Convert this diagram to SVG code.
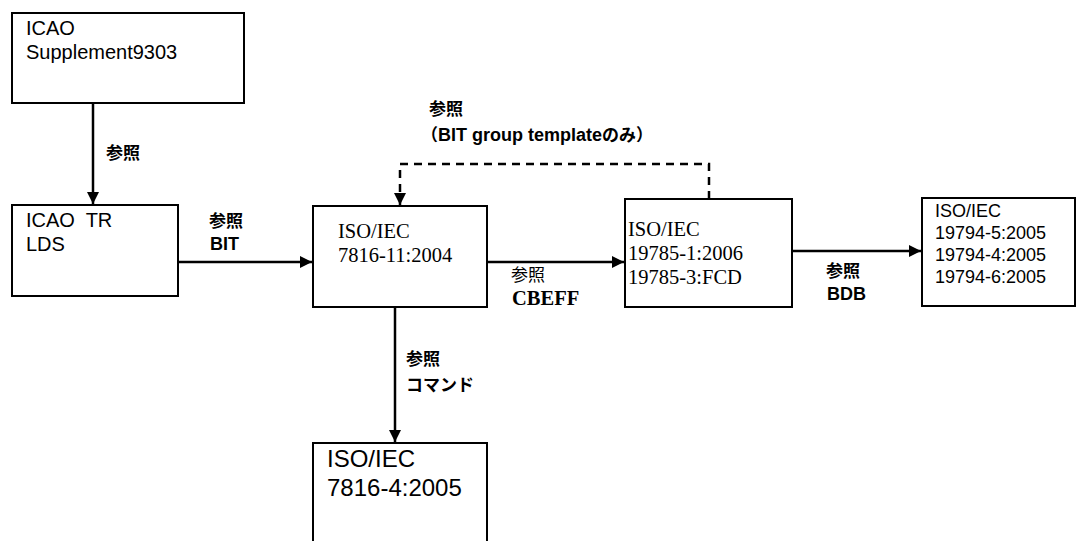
<svg xmlns="http://www.w3.org/2000/svg" width="1076" height="541" viewBox="0 0 1076 541">
<style>
.box{fill:#fff;stroke:#000;stroke-width:2}
.sans{font-family:"Liberation Sans",Arial,"Noto Sans CJK JP",sans-serif;fill:#000}
.serif{font-family:"Liberation Serif","Times New Roman","Noto Serif CJK JP","Noto Sans CJK JP",serif;fill:#000;font-size:20.5px}
.jp{font-family:"Noto Sans CJK JP",sans-serif;font-weight:bold;font-size:17px;fill:#000}
.jpl{font-family:"Noto Sans CJK JP",sans-serif;font-size:17px;fill:#000}
.lbl{font-family:"Liberation Sans",Arial,"Noto Sans CJK JP",sans-serif;font-weight:bold;font-size:18px;fill:#000}
.conn{fill:none;stroke:#000;stroke-width:2.5}
.dash{stroke-dasharray:8 6}
</style>
<defs>
<marker id="ah" markerWidth="12" markerHeight="12" viewBox="0 0 12 12" refX="12" refY="6" orient="auto" markerUnits="userSpaceOnUse">
<path d="M0,0 L12,6 L0,12 Z" fill="#000"/>
</marker>
</defs>
<rect width="1076" height="541" fill="#fff"/>

<g id="connectors">
<line class="conn" x1="93" y1="103" x2="93" y2="204" marker-end="url(#ah)"/>
<line class="conn" x1="174" y1="262" x2="312" y2="262" marker-end="url(#ah)"/>
<line class="conn" x1="487" y1="262" x2="624" y2="262" marker-end="url(#ah)"/>
<line class="conn" x1="788" y1="251" x2="921" y2="251" marker-end="url(#ah)"/>
<line class="conn" x1="395" y1="307" x2="395" y2="442" marker-end="url(#ah)"/>
<polyline class="conn dash" points="709,199 709,164 400,164 400,205" marker-end="url(#ah)"/>
<text class="jp" x="106" y="159">参照</text>
<text class="jp" x="209" y="227">参照</text>
<text class="lbl" x="210" y="250">BIT</text>
<text class="jp" x="429" y="115">参照</text>
<text class="jp" x="421" y="141">（<tspan class="lbl" font-size="17">BIT group template</tspan>のみ）</text>
<text class="jpl" x="511" y="281">参照</text>
<text class="serif" x="512" y="305" font-size="20" font-weight="bold">CBEFF</text>
<text class="jp" x="826" y="277">参照</text>
<text class="lbl" x="827" y="300">BDB</text>
<text class="jp" x="406" y="365">参照</text>
<text class="jp" x="406" y="391">コマンド</text>
</g>

<g id="n1">
<rect class="box" x="12" y="13" width="232" height="90"/>
<text class="sans" x="26" y="35" font-size="20">ICAO</text>
<text class="sans" x="26" y="59" font-size="20">Supplement9303</text>
</g>

<g id="n2">
<rect class="box" x="12" y="205" width="166" height="91"/>
<text class="sans" x="26" y="227" font-size="20" xml:space="preserve">ICAO  TR</text>
<text class="sans" x="26" y="251" font-size="20">LDS</text>
</g>

<g id="n3">
<rect class="box" x="313" y="206" width="174" height="101"/>
<text class="serif" x="338" y="238">ISO/IEC</text>
<text class="serif" x="338" y="262">7816-11:2004</text>
</g>

<g id="n4">
<rect class="box" x="625" y="199" width="167" height="108"/>
<text class="serif" x="628" y="236">ISO/IEC</text>
<text class="serif" x="628" y="260">19785-1:2006</text>
<text class="serif" x="628" y="284">19785-3:FCD</text>
</g>

<g id="n5">
<rect class="box" x="922" y="198" width="153" height="108"/>
<text class="sans" x="935" y="217" font-size="18">ISO/IEC</text>
<text class="sans" x="935" y="239" font-size="18">19794-5:2005</text>
<text class="sans" x="935" y="261" font-size="18">19794-4:2005</text>
<text class="sans" x="935" y="283" font-size="18">19794-6:2005</text>
</g>

<g id="n6">
<rect class="box" x="313" y="443" width="174" height="110"/>
<text class="sans" x="327" y="467" font-size="24">ISO/IEC</text>
<text class="sans" x="327" y="496" font-size="24">7816-4:2005</text>
</g>
</svg>
